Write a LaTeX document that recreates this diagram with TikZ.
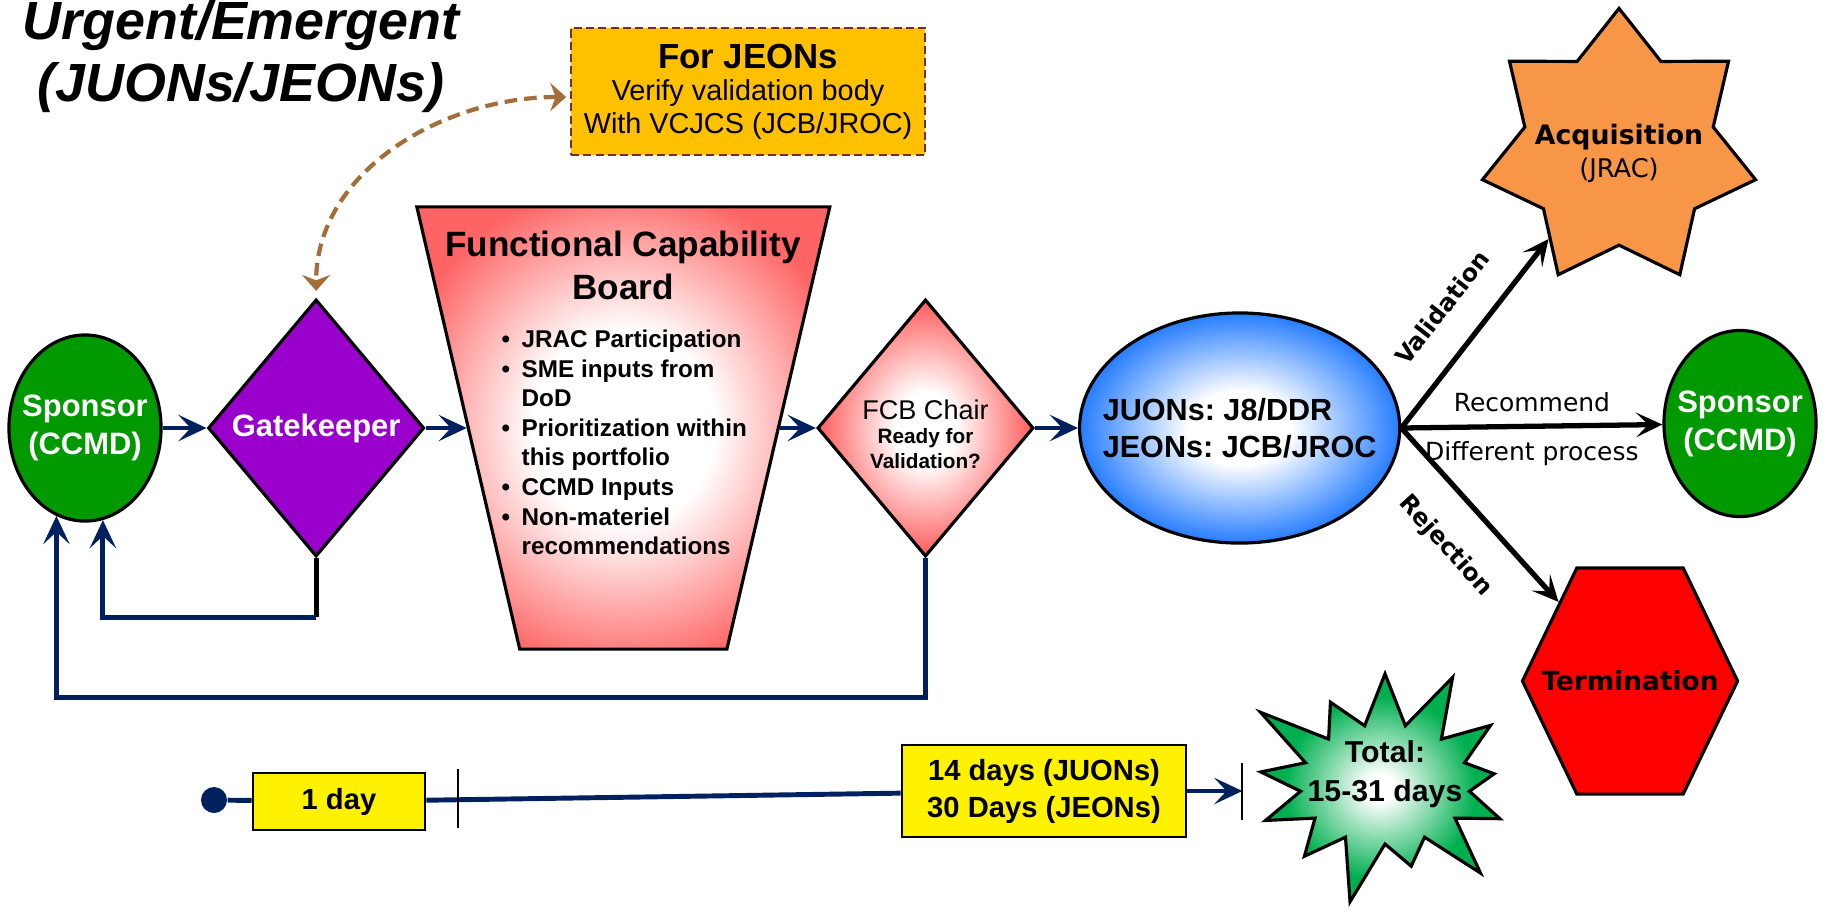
\documentclass[tikz,border=0pt]{standalone}
\usepackage{fontspec}
\setmainfont{Liberation Sans}
\newfontfamily\tahoma{DejaVu Sans}
\usetikzlibrary{positioning,arrows.meta,shapes.geometric,shapes.symbols}
\frenchspacing

\definecolor{navyline}{RGB}{0,32,96}
\definecolor{sponsorgreen}{RGB}{0,153,0}
\definecolor{gatepurple}{RGB}{153,0,204}
\definecolor{fcbpink}{RGB}{255,100,100}
\definecolor{juonblue}{RGB}{0,102,255}
\definecolor{acqorange}{RGB}{247,150,70}
\definecolor{notegold}{RGB}{255,192,0}
\definecolor{noteedge}{RGB}{112,48,48}
\definecolor{curvebrown}{RGB}{163,110,57}
\definecolor{totalgreen}{RGB}{0,176,80}

\pgfdeclareradialshading{fcbglow}{\pgfpoint{0bp}{0bp}}{color(0bp)=(white); color(11bp)=(white); color(28bp)=(fcbpink); color(50bp)=(fcbpink)}
\pgfdeclareradialshading{chairglow}{\pgfpoint{0bp}{0bp}}{color(0bp)=(white); color(7bp)=(white); color(24bp)=(fcbpink); color(50bp)=(fcbpink)}
\pgfdeclareradialshading{juonglow}{\pgfpoint{0bp}{0bp}}{color(0bp)=(white); color(8bp)=(white); color(28bp)=(juonblue); color(50bp)=(juonblue)}
\pgfdeclareradialshading{totalglow}{\pgfpoint{0bp}{0bp}}{color(0bp)=(white); color(3bp)=(white); color(20bp)=(totalgreen); color(50bp)=(totalgreen)}

\newcommand{\fsz}[2]{\fontsize{#1}{#2}\selectfont}
\newcommand{\fcbitem}{\makebox[0.2cm][l]{\textbullet}}
\newcommand{\fcbgap}{\hspace*{0.2cm}}

\begin{document}
\begin{tikzpicture}[x=0.01cm, y=-0.01cm,
    flow/.style = {navyline, line width=1.4pt, -{Stealth[length=8pt,width=7.5pt,inset=3.5pt]}},
    choice/.style = {black, line width=1.5pt, -{Stealth[length=7.5pt,width=7pt,inset=3.5pt]}},
    jeonlink/.style = {curvebrown, line width=1.2pt, dash pattern=on 3.6pt off 2pt, {Stealth[length=4.5pt,width=8pt,inset=1.5pt]}-{Stealth[length=4.5pt,width=8pt,inset=1.5pt]}},
    tickmark/.style = {black, line width=0.5pt},
    sponsor/.style = {draw, ellipse, line width=0.9pt, fill=sponsorgreen, minimum width=1.52cm, minimum height=1.86cm, inner sep=0pt},
    whitetext/.style = {text=white, font=\fsz{8.8pt}{10.8pt}\bfseries, align=center, inner sep=0pt},
    gate/.style = {draw, diamond, aspect=0.84, line width=0.9pt, fill=gatepurple, minimum width=2.16cm, minimum height=2.57cm, inner sep=1pt, text=white, font=\fsz{8.8pt}{10.8pt}\bfseries},
    board/.style = {draw, trapezium, trapezium left angle=76.9, trapezium right angle=76.9, shape border rotate=180, inner xsep=1.035cm, inner ysep=2.21cm, line width=0.9pt, shading=fcbglow},
    boardtitle/.style = {font=\fsz{10pt}{12.2pt}\bfseries, align=center, inner sep=0pt},
    boardlist/.style = {font=\fsz{6.9pt}{8.4pt}\bfseries, align=left, inner sep=0pt},
    chair/.style = {draw, diamond, aspect=0.84, line width=0.9pt, shading=chairglow, minimum width=2.16cm, minimum height=2.57cm, inner sep=1pt, font=\fsz{5.9pt}{7pt}\bfseries, align=center},
    juon/.style = {draw, ellipse, line width=0.9pt, shading=juonglow, minimum width=3.2cm, minimum height=2.3cm, inner sep=0pt},
    juontext/.style = {font=\fsz{8.7pt}{10.5pt}\bfseries, align=left, inner sep=0pt},
    acqstar/.style = {draw, star, star points=7, star point ratio=1.45, minimum size=2.8cm, inner sep=0pt, line width=0.9pt, fill=acqorange},
    acqtext/.style = {font=\tahoma\fsz{7.6pt}{9.4pt}\bfseries, align=center, inner sep=0pt},
    termhex/.style = {draw, signal, signal to=west and east, signal pointer angle=128.6, minimum width=2.15cm, minimum height=2.26cm, inner sep=0pt, line width=0.9pt, fill=red},
    termtext/.style = {font=\tahoma\fsz{7.5pt}{9pt}\bfseries, inner sep=0pt},
    routetext/.style = {font=\tahoma\fsz{7.1pt}{8.5pt}, inner sep=0pt},
    routebold/.style = {font=\tahoma\fsz{6.8pt}{8.5pt}\bfseries, inner sep=0pt},
    notebox/.style = {draw=noteedge, line width=0.7pt, dash pattern=on 2.3pt off 1.2pt, fill=notegold, minimum width=3.54cm, minimum height=1.27cm, font=\fsz{8.2pt}{9.25pt}, align=center},
    daybox/.style = {draw, fill=yellow, line width=0.7pt, inner sep=0pt, font=\fsz{8.3pt}{10.5pt}\bfseries, align=center},
    totalburst/.style = {draw, starburst, starburst points=13, starburst point height=0.7cm, minimum width=3.1cm, minimum height=2.6cm, inner sep=0pt, line width=0.9pt, shading=totalglow},
    totaltext/.style = {font=\fsz{8.6pt}{11.1pt}\bfseries, align=center, inner sep=0pt}]
    \useasboundingbox (0,0) rectangle (1843,914);

    \node[font=\fsz{15.3pt}{17.6pt}\bfseries\itshape, align=center, inner sep=0pt] (title) at (241,57) {Urgent/Emergent\\(JUONs/JEONs)};
    \node[notebox] (note) at (748,91.5) {{\fsz{9.9pt}{9.25pt}\bfseries For JEONs}\\Verify validation body\\With VCJCS (JCB/JROC)};

    \node[sponsor, label={[whitetext]center:{Sponsor\\(CCMD)}}] (sp1) at (85,428) {};
    \node[gate] (gk) [right of = sp1, node distance=2.31cm] {Gatekeeper};
    \node[board] (fcb) [right of = gk, node distance=3.07cm] {};
    \node[boardtitle] (fcbt) at (623,265.5) {Functional Capability\\Board};
    \node[boardlist, anchor=west] (fcbl) at (501,442.5) {\fcbitem JRAC Participation\\
        \fcbitem SME inputs from\\ \fcbgap DoD\\
        \fcbitem Prioritization within\\ \fcbgap this portfolio\\
        \fcbitem CCMD Inputs\\
        \fcbitem Non-materiel\\ \fcbgap recommendations};
    \node[chair] (ch) [right of = fcb, node distance=3.02cm] {{\rule{0pt}{9pt}\fsz{7.7pt}{7pt}\mdseries FCB Chair}\\Ready for\\Validation?};
    \node[juon, label={[juontext]center:{JUONs: J8/DDR\\JEONs: JCB/JROC}}] (juon) [right of = ch, node distance=3.14cm] {};

    \node[acqstar, label={[acqtext, yshift=-0.045cm]center:{Acquisition\\{\fsz{7.3pt}{9.4pt}\mdseries (JRAC)}}}] (acq) at (1619,148.5) {};
    \node[sponsor, label={[whitetext]center:{Sponsor\\(CCMD)}}] (sp2) at (1740,423.5) {};
    \node[termhex, label={[termtext]center:Termination}] (term) at (1630,681) {};

    \draw[flow] (sp1) -- (gk);
    \draw[flow] (gk) -- (fcb);
    \draw[flow] (fcb) -- (ch);
    \draw[flow] (ch) -- (juon);
    \draw[black, line width=1.4pt] (gk.south) -- ++(0,59) coordinate (gkfoot);
    \draw[flow] (gkfoot) -| (sp1.281);
    \draw[flow] (ch.south) -- ++(0,139.5) -| (sp1.252);
    \draw[jeonlink, shorten <=1pt, shorten >=2pt] ([yshift=-0.055cm]note.west) to[out=180, in=90] (gk.north);

    \draw[choice] (juon.east) -- (acq) node[midway, sloped, above=0.3cm, routebold] (lval) {Validation};
    \draw[choice] (juon.east) -- (sp2) node[midway, above=0.12cm, routetext] (lrec) {Recommend} node[midway, below=0.13cm, routetext] (ldif) {Different process};
    \draw[choice] (juon.east) -- (term) node[midway, sloped, below=0.32cm, routebold] (lrej) {Rejection};

    \node[circle, fill=navyline, minimum size=0.26cm, inner sep=0pt] (dot) at (214,800) {};
    \node[daybox, minimum width=1.72cm, minimum height=0.57cm] (day1) at (339,801.5) {1 day};
    \node[daybox, minimum width=2.84cm, minimum height=0.92cm] (day14) at (1044,791) {14 days (JUONs)\\30 Days (JEONs)};
    \coordinate (t2) at ([xshift=0.55cm]day14.east);
    \node[totalburst, label={[totaltext, yshift=0.1cm]center:{Total:\\15-31 days}}] (total) at (1385,784) {};

    \draw[navyline, line width=1.4pt] (dot) -- (day1);
    \draw[navyline, line width=1.4pt] (day1) -- (day14);
    \draw[flow] (day14) -- (t2);
    \draw[tickmark] ([xshift=0.32cm,yshift=0.03cm]day1.north east) -- ([xshift=0.32cm,yshift=0.03cm]day1.south east);
    \draw[tickmark] ([yshift=0.28cm]t2) -- ([yshift=-0.29cm]t2);
\end{tikzpicture}
\end{document}
